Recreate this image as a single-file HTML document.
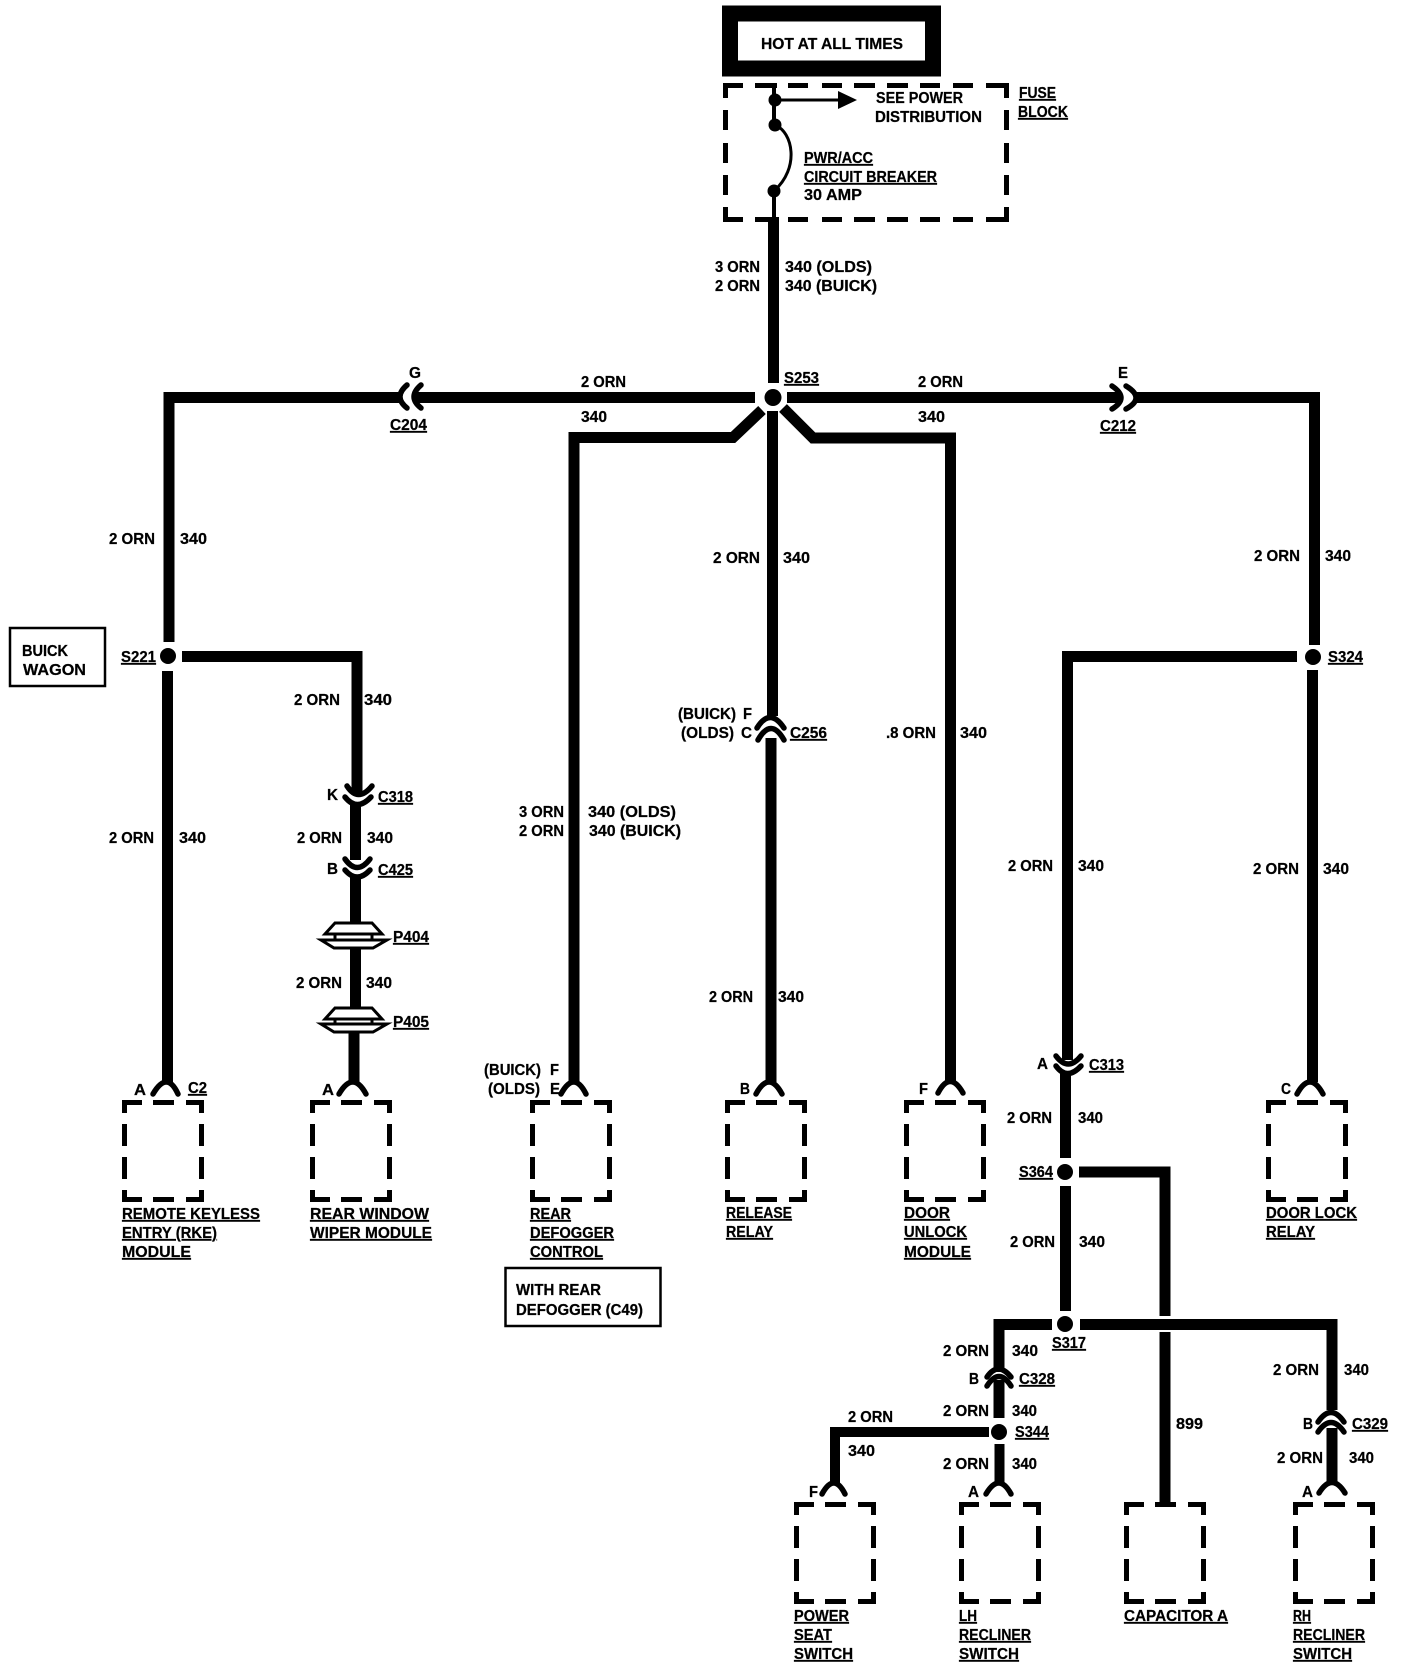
<!DOCTYPE html>
<html><head><meta charset="utf-8"><style>
html,body{margin:0;padding:0;background:#fff}
svg{display:block}
text{font-family:"Liberation Sans",sans-serif;font-weight:700;font-size:16px;fill:#000;stroke:#000;stroke-width:.25}
.u{text-decoration:underline;text-underline-offset:2px;text-decoration-thickness:1.5px}
.w{fill:none;stroke:#000;stroke-width:11;stroke-linejoin:miter}
.a{fill:none;stroke:#000;stroke-width:5.500;stroke-linecap:round}
.d{fill:none;stroke:#000;stroke-width:5}
.p{fill:#fff;stroke:#000;stroke-width:3}
</style></head><body>
<svg xmlns="http://www.w3.org/2000/svg" width="1408" height="1670" viewBox="0 0 1408 1670">
<defs>
<path id="m" class="d" d="M2.5 13V2.5H20M31 2.5H52M64 2.5H79.5V13M2.5 24V46M2.5 57V79M2.5 90V99.5H20M31 99.5H52M64 99.5H79.5V90M79.5 24V46M79.5 57V79"/>
</defs>

<!-- Hot box -->
<rect x="730" y="13.500" width="203" height="55" fill="none" stroke="#000" stroke-width="16"/>
<text x="761" y="49" textLength="142" lengthAdjust="spacingAndGlyphs">HOT AT ALL TIMES</text>

<!-- Fuse block -->
<path class="d" d="M725.500 98V85.500H743M755 85.500H777M788 85.500H808M822 85.500H842M854 85.500H875M887 85.500H908M920 85.500H940M953 85.500H973M986 85.500H1006.500V98M725.500 110V130M725.500 143V163M725.500 175V195M725.500 207V219.500H743M755 219.500H777M788 219.500H808M822 219.500H842M854 219.500H875M887 219.500H908M920 219.500H940M953 219.500H973M986 219.500H1006.500V207M1006.500 110V130M1006.500 143V163M1006.500 175V195"/>
<path d="M774 83V125M774 191V217" fill="none" stroke="#000" stroke-width="4"/>
<circle cx="775" cy="100" r="6.500"/><circle cx="775" cy="125" r="6.500"/><circle cx="774" cy="191" r="6.500"/>
<path d="M775 100H840" fill="none" stroke="#000" stroke-width="3"/>
<path d="M838 91L857 100L838 109Z"/>
<path d="M775 125C793 132 800 168 774 191" fill="none" stroke="#000" stroke-width="3"/>

<text x="876" y="103" textLength="87" lengthAdjust="spacingAndGlyphs">SEE POWER</text>
<text x="875" y="122" textLength="107" lengthAdjust="spacingAndGlyphs">DISTRIBUTION</text>
<text class="u" x="1019" y="98" textLength="37" lengthAdjust="spacingAndGlyphs">FUSE</text>
<text class="u" x="1018" y="117" textLength="50" lengthAdjust="spacingAndGlyphs">BLOCK</text>
<text class="u" x="804" y="163" textLength="69" lengthAdjust="spacingAndGlyphs">PWR/ACC</text>
<text class="u" x="804" y="182" textLength="133" lengthAdjust="spacingAndGlyphs">CIRCUIT BREAKER</text>
<text x="804" y="200" textLength="58" lengthAdjust="spacingAndGlyphs">30 AMP</text>

<!-- Wires -->
<path class="w" d="M773.500 217V383"/>
<path class="w" d="M755 397.500H415M400 397.500H169V642"/>
<path class="w" d="M787 397.500H1120M1135 397.500H1314.500V645"/>
<path class="w" d="M762 410L733 437.500H574V1082"/>
<path class="w" d="M783 408L813 438H950.500V1082"/>
<path class="w" d="M772.500 411V716M771 738V1082"/>
<circle cx="773" cy="397.500" r="8.500"/>

<!-- S221 branch -->
<circle cx="168" cy="656" r="8"/>
<path class="w" d="M167.500 671V1082"/>
<path class="w" d="M182 656.500H357V795"/>
<path class="w" d="M355.500 805V860"/>
<path class="w" d="M355.500 875V922M355.500 947V1007M354 1032V1082"/>

<!-- S324 branch -->
<circle cx="1313" cy="657" r="8"/>
<path class="w" d="M1312.500 670V1082"/>
<path class="w" d="M1297 656.500H1067.500V1060"/>
<path class="w" d="M1065.500 1071V1158"/>
<circle cx="1065" cy="1172" r="8"/>
<path class="w" d="M1079 1172H1165V1316"/>
<path class="w" d="M1065.500 1186V1311"/>
<path class="w" d="M1052 1324.500H999V1372"/>
<circle cx="1065" cy="1324" r="8"/>
<path class="w" d="M1080 1324.500H1332V1410"/>
<path class="w" d="M1165 1332V1503"/>
<path class="w" d="M999 1380V1418"/>
<circle cx="999" cy="1432" r="8"/>
<path class="w" d="M989 1432H835V1485" style="stroke-width:10"/>
<path class="w" d="M999.500 1444V1485" style="stroke-width:10"/>
<path class="w" d="M1332 1428V1485"/>

<!-- Connector arcs -->
<path class="a" d="M407 385Q393 397 407 408"/><path class="a" d="M421 385Q407 397 421 408"/>
<path class="a" d="M1112 386Q1130 398 1112 409"/><path class="a" d="M1126 386Q1146 398 1126 409"/>

<path class="a" d="M347 786Q358 803 372 786"/><path class="a" d="M345 797Q357 812 371 797"/>
<path class="a" d="M345 859Q357 876 370 859"/><path class="a" d="M345 870Q357 884 370 870"/>
<path class="a" d="M1056 1056Q1068 1072 1081 1056"/><path class="a" d="M1056 1066Q1067 1081 1081 1066"/>
<path class="a" d="M757 728Q770 707 784 728"/><path class="a" d="M758 740Q771 717 784 740"/>
<path class="a" d="M987 1377Q998 1361 1011 1377"/><path class="a" d="M987 1386Q999 1367 1011 1386"/>
<path class="a" d="M1318 1422Q1331 1403 1344 1422"/><path class="a" d="M1318 1432Q1331 1413 1344 1432"/>

<!-- Terminal connectors -->
<path class="a" d="M153 1094Q167 1070 178 1094"/>
<path class="a" d="M339 1094Q353 1070 366 1094"/>
<path class="a" d="M561 1094Q574 1070 586 1094"/>
<path class="a" d="M756 1094Q769 1070 782 1094"/>
<path class="a" d="M938 1093Q950 1070 963 1093"/>
<path class="a" d="M1297 1094Q1310 1070 1323 1094"/>
<path class="a" d="M822 1494Q834 1472 845 1494"/>
<path class="a" d="M986 1494Q999 1472 1011 1494"/>
<path class="a" d="M1319 1493Q1332 1472 1345 1493"/>

<!-- P404 / P405 -->
<path class="p" d="M335 923H372L382 934H325Z"/><path class="p" d="M335 934V940M372 934V940"/><path class="p" d="M321 940H387L373 948H334Z"/>
<path class="p" d="M335 1008H372L382 1019H325Z"/><path class="p" d="M335 1019V1024M372 1019V1024"/><path class="p" d="M321 1024H387L373 1032H334Z"/>

<!-- Modules -->
<use href="#m" x="122" y="1100"/><use href="#m" x="310" y="1100"/><use href="#m" x="530" y="1100"/>
<use href="#m" x="725" y="1100"/><use href="#m" x="904" y="1100"/><use href="#m" x="1266" y="1100"/>
<use href="#m" x="794" y="1502"/><use href="#m" x="959" y="1502"/><use href="#m" x="1124" y="1502"/><use href="#m" x="1293" y="1502"/>

<!-- Note boxes -->
<rect x="10" y="628" width="95" height="58" fill="none" stroke="#000" stroke-width="2.500"/>
<rect x="505.500" y="1268" width="155" height="58" fill="none" stroke="#000" stroke-width="2.500"/>
<text x="22" y="656" textLength="46" lengthAdjust="spacingAndGlyphs">BUICK</text>
<text x="23" y="675" textLength="63" lengthAdjust="spacingAndGlyphs">WAGON</text>
<text x="516" y="1295" textLength="85" lengthAdjust="spacingAndGlyphs">WITH REAR</text>
<text x="516" y="1315" textLength="127" lengthAdjust="spacingAndGlyphs">DEFOGGER (C49)</text>

<!-- Wire labels -->
<text x="715" y="272" textLength="45" lengthAdjust="spacingAndGlyphs">3 ORN</text>
<text x="715" y="291" textLength="45" lengthAdjust="spacingAndGlyphs">2 ORN</text>
<text x="785" y="272" textLength="87" lengthAdjust="spacingAndGlyphs">340 (OLDS)</text>
<text x="785" y="291" textLength="92" lengthAdjust="spacingAndGlyphs">340 (BUICK)</text>
<text class="u" x="784" y="383" textLength="35" lengthAdjust="spacingAndGlyphs">S253</text>
<text x="581" y="387" textLength="45" lengthAdjust="spacingAndGlyphs">2 ORN</text>
<text x="581" y="422" textLength="26" lengthAdjust="spacingAndGlyphs">340</text>
<text x="918" y="387" textLength="45" lengthAdjust="spacingAndGlyphs">2 ORN</text>
<text x="918" y="422" textLength="27" lengthAdjust="spacingAndGlyphs">340</text>
<text x="409" y="378" textLength="12" lengthAdjust="spacingAndGlyphs">G</text>
<text x="1118" y="378" textLength="10" lengthAdjust="spacingAndGlyphs">E</text>
<text class="u" x="390" y="430" textLength="37" lengthAdjust="spacingAndGlyphs">C204</text>
<text class="u" x="1100" y="431" textLength="36" lengthAdjust="spacingAndGlyphs">C212</text>
<text x="109" y="544" textLength="46" lengthAdjust="spacingAndGlyphs">2 ORN</text>
<text x="180" y="544" textLength="27" lengthAdjust="spacingAndGlyphs">340</text>
<text x="713" y="563" textLength="47" lengthAdjust="spacingAndGlyphs">2 ORN</text>
<text x="783" y="563" textLength="27" lengthAdjust="spacingAndGlyphs">340</text>
<text x="1254" y="561" textLength="46" lengthAdjust="spacingAndGlyphs">2 ORN</text>
<text x="1325" y="561" textLength="26" lengthAdjust="spacingAndGlyphs">340</text>
<text class="u" x="121" y="662" textLength="35" lengthAdjust="spacingAndGlyphs">S221</text>
<text class="u" x="1328" y="662" textLength="35" lengthAdjust="spacingAndGlyphs">S324</text>
<text x="294" y="705" textLength="46" lengthAdjust="spacingAndGlyphs">2 ORN</text>
<text x="364" y="705" textLength="28" lengthAdjust="spacingAndGlyphs">340</text>
<text x="678" y="719" textLength="58" lengthAdjust="spacingAndGlyphs">(BUICK)</text>
<text x="743" y="719" textLength="9" lengthAdjust="spacingAndGlyphs">F</text>
<text x="681" y="738" textLength="53" lengthAdjust="spacingAndGlyphs">(OLDS)</text>
<text x="741" y="738" textLength="11" lengthAdjust="spacingAndGlyphs">C</text>
<text class="u" x="790" y="738" textLength="37" lengthAdjust="spacingAndGlyphs">C256</text>
<text x="886" y="738" textLength="50" lengthAdjust="spacingAndGlyphs">.8 ORN</text>
<text x="960" y="738" textLength="27" lengthAdjust="spacingAndGlyphs">340</text>
<text x="327" y="800" textLength="11" lengthAdjust="spacingAndGlyphs">K</text>
<text class="u" x="378" y="802" textLength="35" lengthAdjust="spacingAndGlyphs">C318</text>
<text x="519" y="817" textLength="45" lengthAdjust="spacingAndGlyphs">3 ORN</text>
<text x="519" y="836" textLength="45" lengthAdjust="spacingAndGlyphs">2 ORN</text>
<text x="588" y="817" textLength="88" lengthAdjust="spacingAndGlyphs">340 (OLDS)</text>
<text x="589" y="836" textLength="92" lengthAdjust="spacingAndGlyphs">340 (BUICK)</text>
<text x="109" y="843" textLength="45" lengthAdjust="spacingAndGlyphs">2 ORN</text>
<text x="179" y="843" textLength="27" lengthAdjust="spacingAndGlyphs">340</text>
<text x="297" y="843" textLength="45" lengthAdjust="spacingAndGlyphs">2 ORN</text>
<text x="367" y="843" textLength="26" lengthAdjust="spacingAndGlyphs">340</text>
<text x="1008" y="871" textLength="45" lengthAdjust="spacingAndGlyphs">2 ORN</text>
<text x="1078" y="871" textLength="26" lengthAdjust="spacingAndGlyphs">340</text>
<text x="1253" y="874" textLength="46" lengthAdjust="spacingAndGlyphs">2 ORN</text>
<text x="1323" y="874" textLength="26" lengthAdjust="spacingAndGlyphs">340</text>
<text x="327" y="874" textLength="11" lengthAdjust="spacingAndGlyphs">B</text>
<text class="u" x="378" y="875" textLength="35" lengthAdjust="spacingAndGlyphs">C425</text>
<text class="u" x="393" y="942" textLength="36" lengthAdjust="spacingAndGlyphs">P404</text>
<text x="296" y="988" textLength="46" lengthAdjust="spacingAndGlyphs">2 ORN</text>
<text x="366" y="988" textLength="26" lengthAdjust="spacingAndGlyphs">340</text>
<text x="709" y="1002" textLength="44" lengthAdjust="spacingAndGlyphs">2 ORN</text>
<text x="778" y="1002" textLength="26" lengthAdjust="spacingAndGlyphs">340</text>
<text class="u" x="393" y="1027" textLength="36" lengthAdjust="spacingAndGlyphs">P405</text>
<text x="1037" y="1069" textLength="11" lengthAdjust="spacingAndGlyphs">A</text>
<text class="u" x="1089" y="1070" textLength="35" lengthAdjust="spacingAndGlyphs">C313</text>
<text x="484" y="1075" textLength="57" lengthAdjust="spacingAndGlyphs">(BUICK)</text>
<text x="550" y="1075" textLength="9" lengthAdjust="spacingAndGlyphs">F</text>
<text x="488" y="1094" textLength="52" lengthAdjust="spacingAndGlyphs">(OLDS)</text>
<text x="550" y="1094" textLength="10" lengthAdjust="spacingAndGlyphs">E</text>
<text x="134" y="1095" textLength="12" lengthAdjust="spacingAndGlyphs">A</text>
<text class="u" x="188" y="1093" textLength="19" lengthAdjust="spacingAndGlyphs">C2</text>
<text x="322" y="1095" textLength="12" lengthAdjust="spacingAndGlyphs">A</text>
<text x="740" y="1094" textLength="10" lengthAdjust="spacingAndGlyphs">B</text>
<text x="919" y="1094" textLength="9" lengthAdjust="spacingAndGlyphs">F</text>
<text x="1281" y="1094" textLength="10" lengthAdjust="spacingAndGlyphs">C</text>
<text x="1007" y="1123" textLength="45" lengthAdjust="spacingAndGlyphs">2 ORN</text>
<text x="1078" y="1123" textLength="25" lengthAdjust="spacingAndGlyphs">340</text>
<text class="u" x="1019" y="1177" textLength="34" lengthAdjust="spacingAndGlyphs">S364</text>
<text x="1010" y="1247" textLength="45" lengthAdjust="spacingAndGlyphs">2 ORN</text>
<text x="1079" y="1247" textLength="26" lengthAdjust="spacingAndGlyphs">340</text>
<text class="u" x="1052" y="1348" textLength="34" lengthAdjust="spacingAndGlyphs">S317</text>
<text x="943" y="1356" textLength="46" lengthAdjust="spacingAndGlyphs">2 ORN</text>
<text x="1012" y="1356" textLength="26" lengthAdjust="spacingAndGlyphs">340</text>
<text x="1273" y="1375" textLength="46" lengthAdjust="spacingAndGlyphs">2 ORN</text>
<text x="1344" y="1375" textLength="25" lengthAdjust="spacingAndGlyphs">340</text>
<text x="969" y="1384" textLength="10" lengthAdjust="spacingAndGlyphs">B</text>
<text class="u" x="1019" y="1384" textLength="36" lengthAdjust="spacingAndGlyphs">C328</text>
<text x="943" y="1416" textLength="46" lengthAdjust="spacingAndGlyphs">2 ORN</text>
<text x="1012" y="1416" textLength="25" lengthAdjust="spacingAndGlyphs">340</text>
<text x="848" y="1422" textLength="45" lengthAdjust="spacingAndGlyphs">2 ORN</text>
<text x="1303" y="1429" textLength="10" lengthAdjust="spacingAndGlyphs">B</text>
<text class="u" x="1352" y="1429" textLength="36" lengthAdjust="spacingAndGlyphs">C329</text>
<text x="1176" y="1429" textLength="27" lengthAdjust="spacingAndGlyphs">899</text>
<text class="u" x="1015" y="1437" textLength="34" lengthAdjust="spacingAndGlyphs">S344</text>
<text x="848" y="1456" textLength="27" lengthAdjust="spacingAndGlyphs">340</text>
<text x="1277" y="1463" textLength="46" lengthAdjust="spacingAndGlyphs">2 ORN</text>
<text x="1349" y="1463" textLength="25" lengthAdjust="spacingAndGlyphs">340</text>
<text x="943" y="1469" textLength="46" lengthAdjust="spacingAndGlyphs">2 ORN</text>
<text x="1012" y="1469" textLength="25" lengthAdjust="spacingAndGlyphs">340</text>
<text x="809" y="1497" textLength="9" lengthAdjust="spacingAndGlyphs">F</text>
<text x="968" y="1497" textLength="11" lengthAdjust="spacingAndGlyphs">A</text>
<text x="1302" y="1497" textLength="11" lengthAdjust="spacingAndGlyphs">A</text>

<!-- Component names -->
<text class="u" x="122" y="1219" textLength="138" lengthAdjust="spacingAndGlyphs">REMOTE KEYLESS</text>
<text class="u" x="122" y="1238" textLength="95" lengthAdjust="spacingAndGlyphs">ENTRY (RKE)</text>
<text class="u" x="122" y="1257" textLength="69" lengthAdjust="spacingAndGlyphs">MODULE</text>
<text class="u" x="310" y="1219" textLength="119" lengthAdjust="spacingAndGlyphs">REAR WINDOW</text>
<text class="u" x="310" y="1238" textLength="122" lengthAdjust="spacingAndGlyphs">WIPER MODULE</text>
<text class="u" x="530" y="1219" textLength="41" lengthAdjust="spacingAndGlyphs">REAR</text>
<text class="u" x="530" y="1238" textLength="84" lengthAdjust="spacingAndGlyphs">DEFOGGER</text>
<text class="u" x="530" y="1257" textLength="73" lengthAdjust="spacingAndGlyphs">CONTROL</text>
<text class="u" x="726" y="1218" textLength="66" lengthAdjust="spacingAndGlyphs">RELEASE</text>
<text class="u" x="726" y="1237" textLength="47" lengthAdjust="spacingAndGlyphs">RELAY</text>
<text class="u" x="904" y="1218" textLength="46" lengthAdjust="spacingAndGlyphs">DOOR</text>
<text class="u" x="904" y="1237" textLength="63" lengthAdjust="spacingAndGlyphs">UNLOCK</text>
<text class="u" x="904" y="1257" textLength="67" lengthAdjust="spacingAndGlyphs">MODULE</text>
<text class="u" x="1266" y="1218" textLength="91" lengthAdjust="spacingAndGlyphs">DOOR LOCK</text>
<text class="u" x="1266" y="1237" textLength="49" lengthAdjust="spacingAndGlyphs">RELAY</text>
<text class="u" x="794" y="1621" textLength="55" lengthAdjust="spacingAndGlyphs">POWER</text>
<text class="u" x="794" y="1640" textLength="38" lengthAdjust="spacingAndGlyphs">SEAT</text>
<text class="u" x="794" y="1659" textLength="59" lengthAdjust="spacingAndGlyphs">SWITCH</text>
<text class="u" x="959" y="1621" textLength="18" lengthAdjust="spacingAndGlyphs">LH</text>
<text class="u" x="959" y="1640" textLength="72" lengthAdjust="spacingAndGlyphs">RECLINER</text>
<text class="u" x="959" y="1659" textLength="60" lengthAdjust="spacingAndGlyphs">SWITCH</text>
<text class="u" x="1124" y="1621" textLength="104" lengthAdjust="spacingAndGlyphs">CAPACITOR A</text>
<text class="u" x="1293" y="1621" textLength="18" lengthAdjust="spacingAndGlyphs">RH</text>
<text class="u" x="1293" y="1640" textLength="72" lengthAdjust="spacingAndGlyphs">RECLINER</text>
<text class="u" x="1293" y="1659" textLength="59" lengthAdjust="spacingAndGlyphs">SWITCH</text>
</svg>
</body></html>
